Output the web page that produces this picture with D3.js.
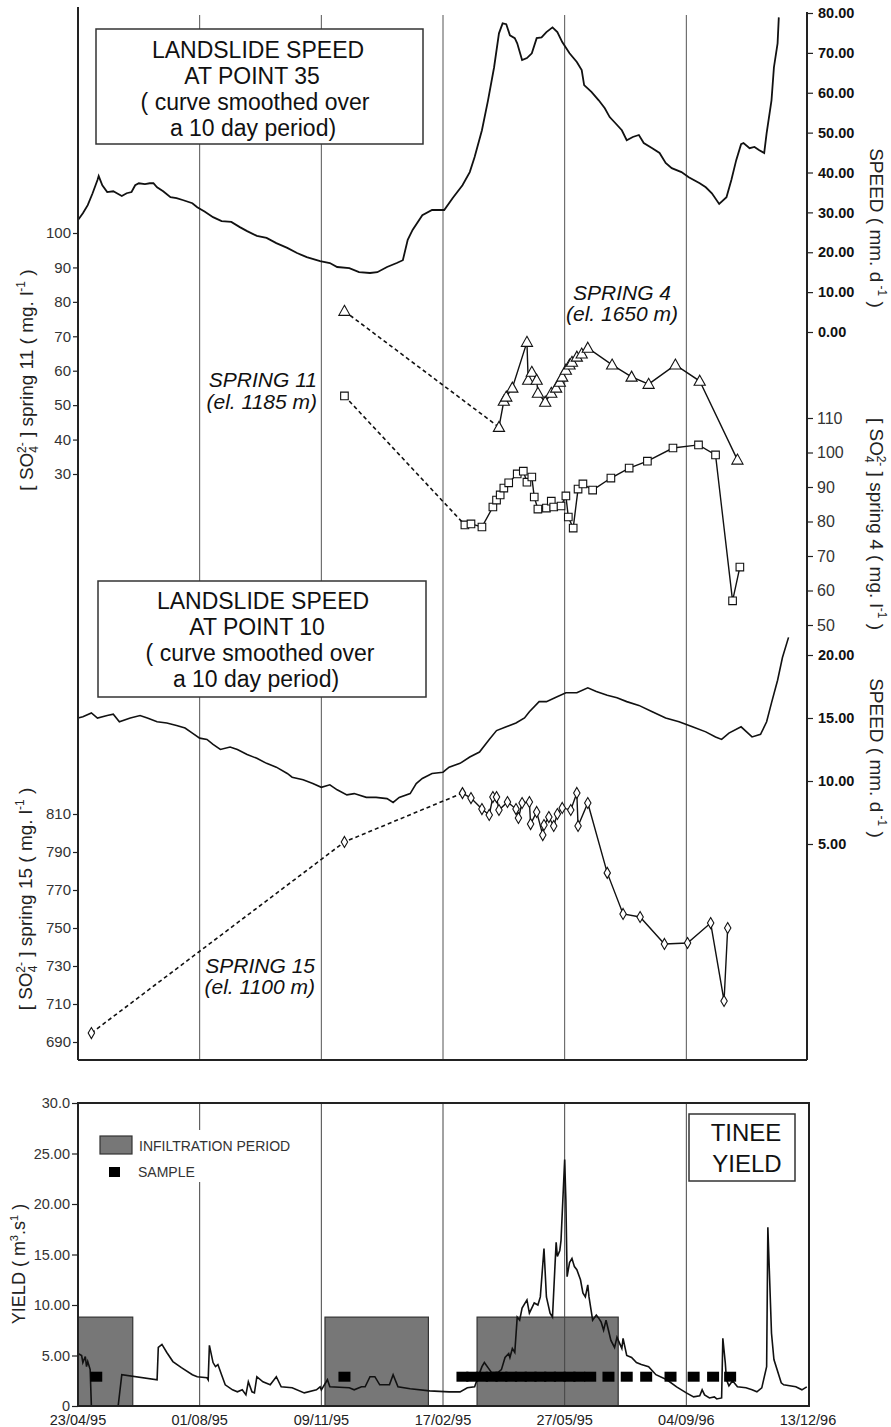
<!DOCTYPE html>
<html>
<head>
<meta charset="utf-8">
<script src="https://cdn.jsdelivr.net/npm/d3@7"></script>
<style>
  html, body { margin: 0; padding: 0; background: #fff; }
  svg { display: block; font-family: "Liberation Sans", Arial, sans-serif; }
</style>
</head>
<body>
<svg id="chart" width="891" height="1427"></svg>
<script>
// time axis: days since 23/04/95, one labelled line every 100 days
const dayTicks = [0, 100, 200, 300, 400, 500, 600];
const dateLabels = ["23/04/95", "01/08/95", "09/11/95", "17/02/95", "27/05/95", "04/09/96", "13/12/96"];

// landslide speed at point 35 (mm/d), [day, value]
const speed35 = [[0,28.1],[4,29.8],[8,31.8],[12,34.8],[16,38.1],[17,39.1],[20,36.8],[24,35.1],[29,35.3],[32,34.8],[36,34.1],[40,34.8],[44,35.1],[47,36.8],[50,37.3],[55,37.1],[59,37.3],[62,37.3],[65,36.3],[70,35.3],[76,33.8],[81,33.6],[86,33.1],[94,32.3],[98,31.3],[104,30.2],[111,28.8],[118,27.8],[126,27.6],[133,26.3],[139,25.3],[147,24.1],[155,23.6],[163,22.3],[172,21.1],[180,19.8],[188,18.8],[199,17.8],[207,17.3],[213,16.3],[223,16.0],[231,15.0],[240,14.8],[246,15.0],[254,16.3],[262,17.3],[267,18.0],[271,23.1],[275,25.6],[283,29.3],[291,30.6],[301,30.6],[308,33.6],[316,36.8],[322,40.1],[326,43.9],[332,50.6],[337,58.1],[342,66.4],[346,74.9],[349,77.4],[352,77.2],[355,74.4],[359,73.7],[361,72.4],[365,68.2],[369,68.7],[373,69.9],[377,73.7],[381,73.9],[385,75.2],[390,76.4],[394,75.2],[398,72.7],[404,69.9],[410,67.7],[414,65.7],[416,61.9],[422,60.2],[428,58.1],[433,56.1],[437,53.9],[441,52.6],[447,50.6],[451,48.1],[456,48.9],[461,49.4],[465,47.4],[472,46.1],[478,44.9],[483,42.4],[488,41.1],[496,40.1],[502,38.8],[511,37.3],[516,36.3],[521,34.8],[527,32.1],[533,33.8],[537,38.1],[541,43.1],[545,47.1],[547,47.4],[552,46.1],[556,46.4],[560,45.6],[564,44.9],[566,49.9],[570,58.1],[572,66.4],[575,72.4],[576,78.9]];

// landslide speed at point 10 (mm/d)
const speed10 = [[0,15.0],[4,15.1],[11,15.4],[16,15.0],[24,15.2],[29,15.3],[34,14.7],[43,15.0],[51,15.2],[57,15.0],[65,14.7],[73,14.6],[81,14.4],[88,14.2],[94,13.8],[100,13.4],[106,13.3],[111,12.9],[117,12.5],[125,12.7],[131,12.5],[139,12.1],[147,11.8],[155,11.4],[163,11.1],[172,10.6],[176,10.3],[185,10.1],[193,9.8],[200,9.5],[207,9.7],[213,9.3],[221,8.9],[227,9.0],[237,8.7],[245,8.7],[254,8.6],[259,8.3],[264,8.7],[273,9.0],[278,9.8],[283,10.2],[291,10.6],[300,10.7],[305,11.1],[314,11.4],[322,11.9],[330,12.3],[338,13.3],[344,14.0],[352,14.3],[360,14.6],[367,15.0],[371,15.5],[379,16.3],[385,16.3],[392,16.6],[401,17.0],[410,17.0],[419,17.4],[426,17.1],[435,16.8],[443,16.6],[451,16.3],[461,16.0],[472,15.5],[483,15.0],[494,14.7],[505,14.3],[516,13.9],[524,13.5],[529,13.3],[535,13.8],[545,14.3],[554,13.5],[561,13.7],[566,14.7],[570,16.2],[575,18.0],[579,19.8],[584,21.4]];

// sulphate samples (mg/l); the first points are joined by a dashed line
const spring11 = [[219,77.3],[346,43.6],[350,51.2],[352,52.4],[357,55.0],[369,68.3],[370,57.3],[373,59.6],[377,57.3],[378,53.5],[384,50.9],[389,53.5],[393,55.0],[396,56.7],[398,58.2],[401,60.2],[404,61.7],[406,62.5],[410,64.0],[414,64.9],[419,66.6],[439,61.7],[455,58.2],[469,56.1],[491,61.7],[511,57.0],[542,34.1]];
const spring11Early = 1;
const spring4 = [[219,116.4],[318,79.0],[323,79.3],[332,78.4],[341,84.2],[344,86.2],[347,87.7],[350,89.7],[354,91.2],[361,93.8],[366,94.6],[369,91.4],[373,92.9],[375,87.1],[378,83.6],[385,83.9],[389,85.9],[391,84.2],[397,84.5],[401,87.4],[403,81.3],[407,78.1],[411,89.4],[415,90.9],[423,89.1],[438,92.6],[453,95.5],[468,97.5],[489,101.3],[510,102.2],[524,99.3],[538,57.0],[544,66.8]];
const spring4Early = 1;
const spring15 = [[11,694.7],[219,795.3],[316,821.0],[323,818.4],[332,812.6],[338,809.5],[341,818.9],[344,818.9],[346,812.1],[353,816.3],[360,812.6],[362,807.9],[365,815.8],[371,816.3],[372,804.7],[377,811.1],[382,798.9],[383,804.2],[387,808.4],[391,803.7],[394,810.0],[398,813.2],[405,812.1],[410,821.1],[411,803.7],[419,815.8],[435,779.0],[448,757.4],[462,755.8],[482,741.6],[501,742.1],[520,752.6],[531,711.6],[534,750.0]];
const spring15Early = 2;

// Tinee yield (m3/s)
const yieldFlow = [[0,5.2],[3,5.0],[4,4.3],[6,4.9],[7,3.9],[8,4.4],[10,3.6],[11,0],[33,0],[36,3.1],[65,2.6],[66,5.8],[69,6.1],[73,5.3],[78,4.4],[85,3.8],[94,3.1],[98,2.9],[106,2.8],[107,2.6],[108,6.0],[111,4.3],[113,3.9],[115,4.1],[118,3.1],[121,2.1],[127,1.6],[131,1.4],[135,1.6],[138,1.1],[140,2.4],[143,1.4],[145,1.3],[147,2.9],[152,2.4],[158,2.1],[163,2.9],[167,1.9],[176,1.8],[186,1.3],[196,1.6],[199,1.9],[200,1.6],[205,2.6],[207,1.9],[223,1.8],[227,1.6],[233,1.9],[236,1.9],[240,2.9],[244,2.9],[248,2.1],[256,2.1],[259,3.1],[263,1.9],[273,1.7],[289,1.5],[305,1.4],[314,1.4],[320,1.8],[326,1.9],[328,2.6],[332,3.9],[334,4.3],[337,3.8],[340,3.3],[345,3.3],[348,3.6],[351,4.8],[354,5.2],[355,4.8],[357,5.7],[359,5.3],[361,8.8],[363,8.5],[365,9.7],[369,10.5],[371,9.2],[375,10.2],[378,10.0],[380,10.8],[383,15.6],[385,10.8],[388,9.2],[390,8.8],[392,13.8],[393,16.2],[394,14.8],[396,15.4],[397,16.4],[400,24.4],[401,20.4],[402,12.8],[404,14.2],[406,14.6],[408,13.8],[410,13.5],[413,12.5],[415,11.2],[417,10.8],[419,12.0],[420,10.8],[423,8.5],[426,9.0],[428,8.7],[430,8.3],[432,7.5],[434,8.5],[436,7.5],[438,6.5],[441,5.8],[443,6.8],[447,5.7],[448,6.7],[451,5.0],[455,4.8],[459,4.3],[463,4.1],[469,3.9],[475,3.1],[484,2.6],[492,1.9],[500,1.3],[506,0.9],[511,1.0],[513,1.6],[515,1.1],[519,0.8],[523,0.9],[525,0.7],[529,0.8],[530,6.7],[532,4.3],[533,2.6],[535,2.0],[538,2.5],[542,1.9],[549,1.8],[554,1.6],[558,1.4],[562,1.8],[566,3.9],[567,17.7],[570,7.2],[572,4.6],[578,2.3],[580,2.1],[590,1.9],[595,1.6],[599,1.9]];

// infiltration periods [start day, end day] and their drawn height
const infiltration = [[0,45],[203,288],[328,444]];
const infiltrationLevel = 8.8;
// sampling days, shown at a fixed yield level
const sampleDays = [15,219,316,324,332,340,348,356,364,372,380,388,396,404,412,421,436,451,467,487,506,522,536];
const sampleLevel = 2.9;

// axis ticks
const speed35Ticks = [0,10,20,30,40,50,60,70,80];
const spring4Ticks = [50,60,70,80,90,100,110];
const speed10Ticks = [5,10,15,20];
const spring11Ticks = [30,40,50,60,70,80,90,100];
const spring15Ticks = [690,710,730,750,770,790,810];
const yieldTicks = [0,5,10,15,20,25,30];
const yieldTickLabels = ["0","5.00","10.00","15.00","20.00","25.00","30.0"];

const svg = d3.select("#chart");
const L = 78, R = 807, topY = 7, topBottom = 1060, botTop = 1103, botBottom = 1406;

const x = d3.scaleLinear().domain([0, 600]).range([L, 808]);
const ySpeed35 = d3.scaleLinear().domain([0, 80]).range([332, 13]);
const ySpring11 = d3.scaleLinear().domain([30, 100]).range([474, 233]);
const ySpring4 = d3.scaleLinear().domain([50, 110]).range([625, 418]);
const ySpeed10 = d3.scaleLinear().domain([5, 20]).range([844, 655]);
const ySpring15 = d3.scaleLinear().domain([690, 810]).range([1042, 814]);
const yYield = d3.scaleLinear().domain([0, 30]).range([botBottom, botTop]);

const gridDays = dayTicks.slice(1, -1);

// ---------- top panel ----------
const upper = svg.append("g");
upper.selectAll("line.grid").data(gridDays).enter().append("line")
  .attr("x1", d => x(d)).attr("x2", d => x(d))
  .attr("y1", 15).attr("y2", topBottom)
  .attr("stroke", "#555").attr("stroke-width", 1);

function titleBox(g, bx, by, bw, bh, lines) {
  g.append("rect").attr("x", bx).attr("y", by).attr("width", bw).attr("height", bh)
    .attr("fill", "#fff").attr("stroke", "#333").attr("stroke-width", 1.5);
  lines.forEach(l => {
    g.append("text").attr("x", l[0]).attr("y", l[1]).attr("text-anchor", "middle")
      .attr("font-size", 23).attr("fill", "#111").text(l[2]);
  });
}
titleBox(upper, 96, 29, 327, 115, [
  [258, 58, "LANDSLIDE SPEED"], [252, 84, "AT POINT 35"],
  [255, 110, "( curve smoothed over"], [253, 136, "a 10 day period)"]]);
titleBox(upper, 98, 581, 328, 116, [
  [263, 609, "LANDSLIDE SPEED"], [257, 635, "AT POINT 10"],
  [260, 661, "( curve smoothed over"], [256, 687, "a 10 day period)"]]);

function curve(data, ys) {
  return d3.line().x(d => x(d[0])).y(d => ys(d[1]))(data);
}
upper.append("path").attr("d", curve(speed35, ySpeed35))
  .attr("fill", "none").attr("stroke", "#111").attr("stroke-width", 1.8);
upper.append("path").attr("d", curve(speed10, ySpeed10))
  .attr("fill", "none").attr("stroke", "#111").attr("stroke-width", 1.6);

function springSeries(data, early, ys, shape) {
  upper.append("path").attr("d", curve(data.slice(0, early + 1), ys))
    .attr("fill", "none").attr("stroke", "#111").attr("stroke-width", 1.6)
    .attr("stroke-dasharray", "4,3");
  upper.append("path").attr("d", curve(data.slice(early), ys))
    .attr("fill", "none").attr("stroke", "#111").attr("stroke-width", 1.4);
  upper.selectAll(null).data(data).enter().append("path")
    .attr("transform", d => `translate(${x(d[0])},${ys(d[1])})`)
    .attr("d", shape)
    .attr("fill", "#fff").attr("stroke", "#111").attr("stroke-width", 1.1);
}
springSeries(spring11, spring11Early, ySpring11, "M0,-5.8L5.6,4.2L-5.6,4.2Z");
springSeries(spring4, spring4Early, ySpring4, "M-3.8,-3.8H3.8V3.8H-3.8Z");
springSeries(spring15, spring15Early, ySpring15, "M0,-5.5L3.2,0L0,5.5L-3.2,0Z");

// spring names
function springLabel(ax, anchor, y1, y2, name, el) {
  const t = upper.append("g").attr("font-style", "italic").attr("font-size", 21)
    .attr("fill", "#111").attr("text-anchor", anchor);
  t.append("text").attr("x", ax).attr("y", y1).text(name);
  t.append("text").attr("x", ax).attr("y", y2).text(el);
}
springLabel(317, "end", 387, 409, "SPRING 11", "(el. 1185 m)");
springLabel(622, "middle", 300, 321, "SPRING 4", "(el. 1650 m)");
springLabel(315, "end", 973, 994, "SPRING 15", "(el. 1100 m)");

// axes lines of the top panel
upper.append("line").attr("x1", L).attr("x2", L).attr("y1", topY).attr("y2", topBottom)
  .attr("stroke", "#222").attr("stroke-width", 2);
upper.append("line").attr("x1", L).attr("x2", R).attr("y1", topBottom).attr("y2", topBottom)
  .attr("stroke", "#222").attr("stroke-width", 2);
upper.append("line").attr("x1", R).attr("x2", R).attr("y1", 12).attr("y2", topBottom)
  .attr("stroke", "#222").attr("stroke-width", 2);

function styleAxis(g, size, weight, color) {
  g.select(".domain").remove();
  g.attr("font-family", null).attr("font-size", null);
  g.selectAll(".tick line").attr("stroke", "#222").attr("stroke-width", 1.2);
  g.selectAll(".tick text").attr("font-size", size).attr("font-weight", weight).attr("fill", color);
}
const fmt2 = d3.format(".2f");
upper.append("g").attr("transform", `translate(${R},0)`)
  .call(d3.axisRight(ySpeed35).tickValues(speed35Ticks).tickFormat(fmt2).tickSize(6).tickPadding(5))
  .call(g => styleAxis(g, 14.5, "bold", "#111"));
upper.append("g").attr("transform", `translate(${R},0)`)
  .call(d3.axisRight(ySpring4).tickValues(spring4Ticks).tickFormat(d3.format("d")).tickSize(6).tickPadding(4))
  .call(g => styleAxis(g, 16, "normal", "#333"));
upper.append("g").attr("transform", `translate(${R},0)`)
  .call(d3.axisRight(ySpeed10).tickValues(speed10Ticks).tickFormat(fmt2).tickSize(6).tickPadding(5))
  .call(g => styleAxis(g, 14.5, "bold", "#111"));
upper.append("g").attr("transform", `translate(${L},0)`)
  .call(d3.axisLeft(ySpring11).tickValues(spring11Ticks).tickFormat(d3.format("d")).tickSize(5).tickPadding(2))
  .call(g => styleAxis(g, 15, "normal", "#333"));
upper.append("g").attr("transform", `translate(${L},0)`)
  .call(d3.axisLeft(ySpring15).tickValues(spring15Ticks).tickFormat(d3.format("d")).tickSize(5).tickPadding(2))
  .call(g => styleAxis(g, 15, "normal", "#333"));

// rotated axis titles
function sulfateTitle(tx, ty, angle, spring) {
  const t = svg.append("text").attr("transform", `translate(${tx},${ty}) rotate(${angle})`)
    .attr("text-anchor", "middle").attr("font-size", 19).attr("fill", "#222");
  t.append("tspan").text("[ SO");
  t.append("tspan").attr("font-size", 12).attr("dy", 5).text("4");
  t.append("tspan").attr("font-size", 12).attr("dx", -7).attr("dy", -12).text("2-");
  t.append("tspan").attr("dy", 7).text(` ] spring ${spring} ( mg. l`);
  t.append("tspan").attr("font-size", 12).attr("dy", -8).text("-1");
  t.append("tspan").attr("dy", 8).text(" )");
}
function speedTitle(tx, ty) {
  const t = svg.append("text").attr("transform", `translate(${tx},${ty}) rotate(90)`)
    .attr("text-anchor", "middle").attr("font-size", 19).attr("fill", "#222");
  t.append("tspan").text("SPEED ( mm. d");
  t.append("tspan").attr("font-size", 12).attr("dy", -8).text(" -1");
  t.append("tspan").attr("dy", 8).text(" )");
}
sulfateTitle(33, 380, -90, "11");
sulfateTitle(32, 899, -90, "15");
sulfateTitle(870, 524, 90, "4");
speedTitle(870, 228);
speedTitle(870, 758);

// ---------- bottom panel ----------
const lower = svg.append("g");
lower.selectAll("rect.inf").data(infiltration).enter().append("rect")
  .attr("x", d => x(d[0])).attr("width", d => x(d[1]) - x(d[0]))
  .attr("y", yYield(infiltrationLevel)).attr("height", botBottom - yYield(infiltrationLevel))
  .attr("fill", "#777").attr("stroke", "#333").attr("stroke-width", 1.2);
lower.selectAll("line.grid").data(gridDays).enter().append("line")
  .attr("x1", d => x(d)).attr("x2", d => x(d))
  .attr("y1", botTop).attr("y2", botBottom)
  .attr("stroke", "#444").attr("stroke-width", 1);

// legend background hides the grid line
lower.append("rect").attr("x", 96).attr("y", 1130).attr("width", 200).attr("height", 52).attr("fill", "#fff");

lower.append("path").attr("d", curve(yieldFlow, yYield))
  .attr("fill", "none").attr("stroke", "#111").attr("stroke-width", 1.6);

lower.selectAll("rect.sample").data(sampleDays).enter().append("rect")
  .attr("x", d => x(d) - 6).attr("y", yYield(sampleLevel) - 5)
  .attr("width", 12).attr("height", 10).attr("fill", "#000");

lower.append("rect").attr("x", L).attr("y", botTop).attr("width", 809 - L).attr("height", botBottom - botTop)
  .attr("fill", "none").attr("stroke", "#222").attr("stroke-width", 2);

lower.append("g").attr("transform", `translate(${L},0)`)
  .call(d3.axisLeft(yYield).tickValues(yieldTicks).tickFormat((d, i) => yieldTickLabels[i]).tickSize(6).tickPadding(2))
  .call(g => styleAxis(g, 14.5, "normal", "#333"));

lower.selectAll("text.date").data(dayTicks).enter().append("text")
  .attr("x", d => x(d)).attr("y", 1425).attr("text-anchor", "middle")
  .attr("font-size", 14.5).attr("fill", "#222").text((d, i) => dateLabels[i]);

// legend
lower.append("rect").attr("x", 100).attr("y", 1136).attr("width", 32).attr("height", 18)
  .attr("fill", "#777").attr("stroke", "#333").attr("stroke-width", 1.2);
lower.append("text").attr("x", 139).attr("y", 1151).attr("font-size", 14).attr("fill", "#333").text("INFILTRATION PERIOD");
lower.append("rect").attr("x", 109).attr("y", 1167).attr("width", 11).attr("height", 10).attr("fill", "#000");
lower.append("text").attr("x", 138).attr("y", 1177).attr("font-size", 14).attr("fill", "#333").text("SAMPLE");

lower.append("rect").attr("x", 689).attr("y", 1114).attr("width", 106).attr("height", 67)
  .attr("fill", "#fff").attr("stroke", "#333").attr("stroke-width", 1.5);
lower.append("text").attr("x", 746).attr("y", 1141).attr("text-anchor", "middle").attr("font-size", 24).attr("fill", "#111").text("TINEE");
lower.append("text").attr("x", 747).attr("y", 1172).attr("text-anchor", "middle").attr("font-size", 24).attr("fill", "#111").text("YIELD");

// yield axis title
const yt = svg.append("text").attr("transform", "translate(25,1264) rotate(-90)")
  .attr("text-anchor", "middle").attr("font-size", 18).attr("fill", "#222");
yt.append("tspan").text("YIELD  ( m");
yt.append("tspan").attr("font-size", 11).attr("dy", -7).text("3");
yt.append("tspan").attr("dy", 7).text(".s");
yt.append("tspan").attr("font-size", 11).attr("dy", -7).text("1");
yt.append("tspan").attr("dy", 7).text(" )");
</script>
</body>
</html>
